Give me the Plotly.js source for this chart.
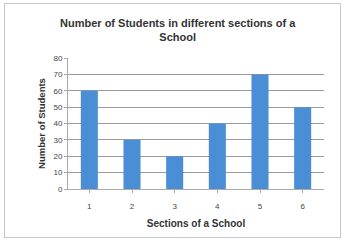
<!DOCTYPE html>
<html><head><meta charset="utf-8">
<script src="https://cdn.plot.ly/plotly-3.0.1.min.js"></script>
<style>html,body{margin:0;padding:0;background:#fff;}#c{width:345px;height:243px;}
#frame{position:absolute;left:4px;top:3px;width:335px;height:233px;border:1px solid #c8c8c8;pointer-events:none;}</style>
</head><body><div id="c"></div><div id="frame"></div>
<script>
var sections = ["1","2","3","4","5","6"];
var students = [60,30,20,40,70,50];
var yTicks = [0,10,20,30,40,50,60,70,80];
var chartTitle = "<b>Number of Students in different sections of a<br>School</b>";
var xTitle = "<b>Sections of a School</b>";
var yTitle = "<b>Number of Students</b>";

Plotly.newPlot("c", [{
  type: "bar", x: sections, y: students,
  marker: {color: "#4a8fd6"}, hoverinfo: "none"
}], {
  width: 345, height: 243,
  margin: {l: 68, r: 21, t: 58, b: 54},
  paper_bgcolor: "#fff", plot_bgcolor: "#fff",
  bargap: 0.6,
  font: {family: "Liberation Sans, Arial, sans-serif", size: 7, color: "#333"},
  title: {text: chartTitle, x: 0.515, xanchor: "center", y: 0.89, yanchor: "top",
          font: {size: 11, color: "#333", family: "Liberation Sans, Arial, sans-serif"}},
  xaxis: {type: "category", title: {text: xTitle, font: {size: 10, color: "#333"}, standoff: 10},
          showline: true, linecolor: "#aaa", linewidth: 1, ticks: "outside", ticklen: 3, tickcolor: "#aaa",
          ticklabelstandoff: 6, tickfont: {size: 8, color: "#444"}, showgrid: false},
  yaxis: {range: [0, 80], tickvals: yTicks, title: {text: yTitle, font: {size: 9.5, color: "#333"}, standoff: 6},
          showgrid: true, gridcolor: "#9a9a9a", gridwidth: 1, showline: true, linecolor: "#aaa",
          ticks: "outside", ticklen: 3, tickcolor: "#aaa", tickfont: {size: 8, color: "#444"}, zeroline: false},
  showlegend: false
}, {staticPlot: true});
</script></body></html>
